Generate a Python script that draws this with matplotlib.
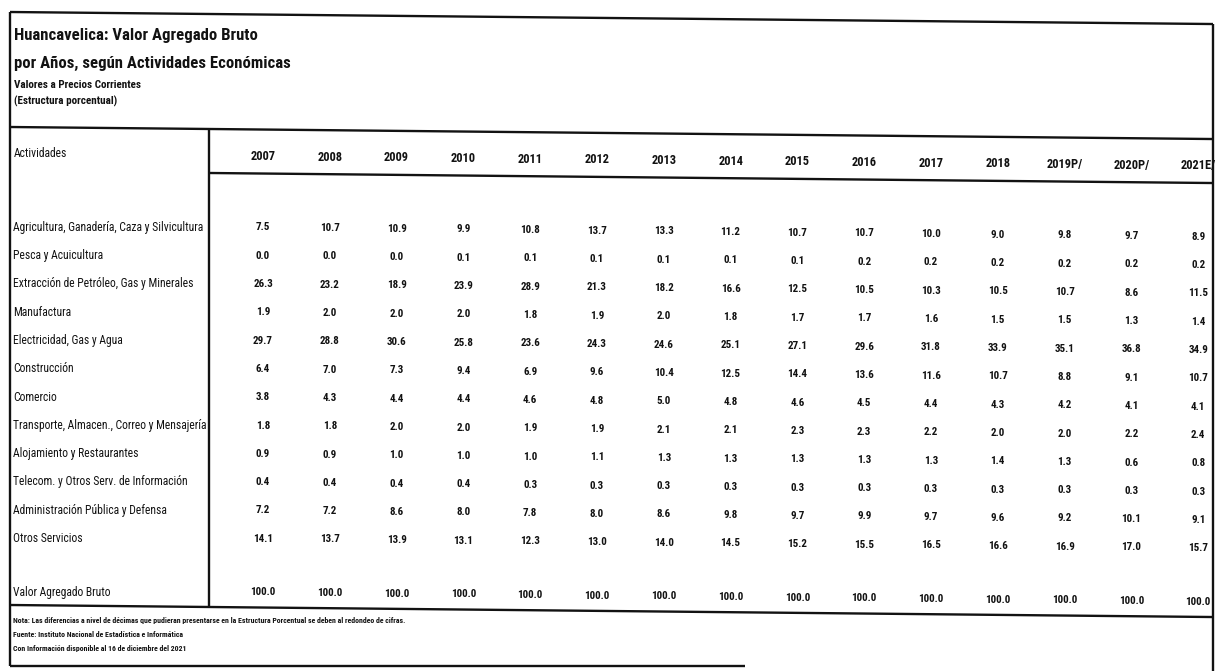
#!/usr/bin/env python3
"""
Huancavelica: Valor Agregado Bruto por actividades - tabla de estructura porcentual.
Redibuja la tabla escaneada como texto en una figura de matplotlib.
"""

import matplotlib.pyplot as plt
from matplotlib import font_manager

W, H = 1217, 671

years = ['2007', '2008', '2009', '2010', '2011', '2012', '2013', '2014',
         '2015', '2016', '2017', '2018', '2019P/', '2020P/', '2021E/']

activities = [
    'Agricultura, Ganadería, Caza y Silvicultura',
    'Pesca y Acuicultura',
    'Extracción de Petróleo, Gas y Minerales',
    'Manufactura',
    'Electricidad, Gas y Agua',
    'Construcción',
    'Comercio',
    'Transporte, Almacen., Correo y Mensajería',
    'Alojamiento y Restaurantes',
    'Telecom. y Otros Serv. de Información',
    'Administración Pública y Defensa',
    'Otros Servicios',
]

agricultura = [7.5, 10.7, 10.9, 9.9, 10.8, 13.7, 13.3, 11.2, 10.7, 10.7, 10.0, 9.0, 9.8, 9.7, 8.9]
pesca = [0.0, 0.0, 0.0, 0.1, 0.1, 0.1, 0.1, 0.1, 0.1, 0.2, 0.2, 0.2, 0.2, 0.2, 0.2]
extraccion = [26.3, 23.2, 18.9, 23.9, 28.9, 21.3, 18.2, 16.6, 12.5, 10.5, 10.3, 10.5, 10.7, 8.6, 11.5]
manufactura = [1.9, 2.0, 2.0, 2.0, 1.8, 1.9, 2.0, 1.8, 1.7, 1.7, 1.6, 1.5, 1.5, 1.3, 1.4]
electricidad = [29.7, 28.8, 30.6, 25.8, 23.6, 24.3, 24.6, 25.1, 27.1, 29.6, 31.8, 33.9, 35.1, 36.8, 34.9]
construccion = [6.4, 7.0, 7.3, 9.4, 6.9, 9.6, 10.4, 12.5, 14.4, 13.6, 11.6, 10.7, 8.8, 9.1, 10.7]
comercio = [3.8, 4.3, 4.4, 4.4, 4.6, 4.8, 5.0, 4.8, 4.6, 4.5, 4.4, 4.3, 4.2, 4.1, 4.1]
transporte = [1.8, 1.8, 2.0, 2.0, 1.9, 1.9, 2.1, 2.1, 2.3, 2.3, 2.2, 2.0, 2.0, 2.2, 2.4]
alojamiento = [0.9, 0.9, 1.0, 1.0, 1.0, 1.1, 1.3, 1.3, 1.3, 1.3, 1.3, 1.4, 1.3, 0.6, 0.8]
telecom = [0.4, 0.4, 0.4, 0.4, 0.3, 0.3, 0.3, 0.3, 0.3, 0.3, 0.3, 0.3, 0.3, 0.3, 0.3]
administracion = [7.2, 7.2, 8.6, 8.0, 7.8, 8.0, 8.6, 9.8, 9.7, 9.9, 9.7, 9.6, 9.2, 10.1, 9.1]
otros = [14.1, 13.7, 13.9, 13.1, 12.3, 13.0, 14.0, 14.5, 15.2, 15.5, 16.5, 16.6, 16.9, 17.0, 15.7]
total = [100.0] * 15

rows = [agricultura, pesca, extraccion, manufactura, electricidad, construccion,
        comercio, transporte, alojamiento, telecom, administracion, otros]

notes = [
    'Nota: Las diferencias a nivel de décimas que pudieran presentarse en la '
    'Estructura Porcentual se deben al redondeo de cifras.',
    'Fuente: Instituto Nacional de Estadística e Informática',
    'Con Información disponible al 16 de diciembre del 2021',
]


def pick_font():
    """Prefer a narrow family (the scan is set in a condensed face)."""
    entries = font_manager.fontManager.ttflist
    names = {f.name for f in entries}
    for name in ['Liberation Sans Narrow', 'Roboto Condensed', 'Open Sans Condensed',
                 'Noto Sans Condensed', 'DejaVu Sans Condensed']:
        if name in names:
            return name, 'normal'
    for name in ['Noto Sans', 'Open Sans', 'Roboto', 'DejaVu Sans']:
        if any(f.name == name and str(f.stretch) in ('condensed', 'semi-condensed',
                                                     'extra-condensed')
               for f in entries):
            return name, 'condensed'
    return 'Lato', 'normal'


FONT, STRETCH = pick_font()
plt.rcParams['font.family'] = [FONT, 'DejaVu Sans']

fig = plt.figure(figsize=(W / 100, H / 100), dpi=100)
ax = fig.add_axes([0, 0, 1, 1])
ax.set_xlim(0, W)
ax.set_ylim(H, 0)
ax.axis('off')
renderer = fig.canvas.get_renderer()


def fit_size(text, target_px, weight='bold', ref=10.0):
    """Font size that makes `text` about target_px wide."""
    t = ax.text(0, 0, text, fontsize=ref, fontweight=weight, fontstretch=STRETCH)
    w = t.get_window_extent(renderer).width
    t.remove()
    return ref * target_px / w


ink = '#121212'
lw = 1.7
SKEW = 0.010          # the scan is slightly rotated: right side sits lower


def sy(x, y):
    return y + SKEW * (x - 10)


def hline(x0, x1, y, skew=True):
    if skew:
        ys = [sy(x0, y), sy(x1, y)]
    else:
        ys = [y, y]
    ax.plot([x0, x1], ys, color=ink, lw=lw, solid_capstyle='butt')


def vline(x, y0, y1):
    ax.plot([x, x], [sy(x, y0), sy(x, y1)], color=ink, lw=lw, solid_capstyle='butt')


def put(x, y, s, size, weight='bold', ha='left', dy=0.0):
    # y is the visual middle of the row; text sits on a baseline under it
    ax.text(x, sy(x, y) + 0.36 * size * 100 / 72 + dy, s, fontsize=size,
            fontweight=weight, fontstretch=STRETCH, ha=ha, va='baseline', color=ink)


# layout (pixels, left edge of scan)
left, right = 10, 1213
top, head_top, head_bot, tab_bot, bottom = 12, 127, 171, 605, 666
div_x = 209
col0, col_step = 263, 66.8
row0, row_step = 224, 28.3
total_y = 589

# sizes fitted to the widths measured on the scan
s_title = fit_size('Huancavelica: Valor Agregado Bruto', 242)
s_sub = fit_size('Valores a Precios Corrientes', 128)
s_label = fit_size(activities[0], 191, weight='normal')
s_head = fit_size('2007', 25)
s_val = fit_size('10.7', 20)
s_note = fit_size(notes[0], 390)

# titles
put(14, 34, 'Huancavelica: Valor Agregado Bruto', s_title)
put(14, 62, 'por Años, según Actividades Económicas', s_title)
put(14, 84, 'Valores a Precios Corrientes', s_sub)
put(14, 100, '(Estructura porcentual)', s_sub)

# borders and rules
hline(left, right, top)
vline(left, top, bottom)
vline(right, top, H)
hline(left, right, head_top)
hline(div_x, right, head_bot)
vline(div_x, head_top, tab_bot)
hline(left, right, tab_bot)
hline(left, 745, bottom, skew=False)

# header
put(14, 151, 'Actividades', s_label, weight='normal', dy=2)
for i, y in enumerate(years):
    put(col0 + i * col_step, 153, y, s_head, ha='center')

# body
for r, (name, vals) in enumerate(zip(activities, rows)):
    yy = row0 + r * row_step
    put(13, yy, name, s_label, weight='normal', dy=2.5)
    for i, v in enumerate(vals):
        put(col0 + i * col_step, yy, f'{v:.1f}', s_val, ha='center')

put(13, total_y, 'Valor Agregado Bruto', s_label, weight='normal', dy=2.5)
for i, v in enumerate(total):
    put(col0 + i * col_step, total_y, f'{v:.1f}', s_val, ha='center')

# notes
for k, t in enumerate(notes):
    put(13, 620 + k * 14, t, s_note)

fig.savefig('out.png', dpi=100)
